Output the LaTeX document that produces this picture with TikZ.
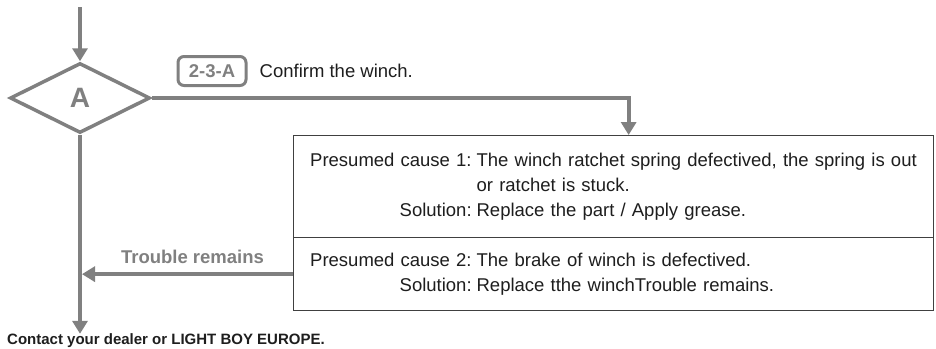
\documentclass[tikz,border=0pt]{standalone}
\usepackage{fontspec}
\setmainfont{Liberation Sans}
\usepackage{array}
\usetikzlibrary{arrows.meta,positioning,shapes.geometric}
\definecolor{flowgray}{HTML}{808080}
\definecolor{boxline}{HTML}{404040}
\definecolor{txt}{HTML}{1E1E1E}

\begin{document}
\begin{tikzpicture}[x=1pt,y=-1pt,every node/.style={text=txt},
  flow/.style={draw=flowgray,line width=4pt,-{Triangle[width=15pt,length=13pt]}},
  causebox/.style={draw=boxline,line width=1.3pt,text width=612pt,inner xsep=14pt,inner ysep=0pt,align=left,font=\fontsize{18.5}{25}\selectfont},
  graytext/.style={text=flowgray,font=\bfseries\fontsize{18.5}{20}\selectfont}]
\useasboundingbox[fill=white] (0,0) rectangle (936,348);
\coordinate (start) at (80,7);
\node[diamond,draw=flowgray,line width=3.5pt,fill=white,minimum width=140pt,minimum height=70pt,inner sep=0pt,text=flowgray,font=\bfseries\fontsize{28}{30}\selectfont] (diaA) at (80,98) {A};
\node[draw=flowgray,line width=3pt,rounded corners=6pt,minimum width=68pt,minimum height=29pt,inner sep=0pt,graytext] (tag) at (212,71) {2-3-A};
\node[right=12pt of tag,inner sep=0pt,font=\fontsize{18.5}{22}\selectfont] (confirm) {Confirm the winch.};
\node[causebox,minimum height=102pt,anchor=north west] (cause1) at (293,135) {\noindent\begin{tabular}{@{}>{\raggedleft\arraybackslash}p{164pt}@{\hspace{5pt}}l@{}}
Presumed cause 1:&The winch ratchet spring defectived, the spring is out\\
&or ratchet is stuck.\\
Solution:&Replace the part / Apply grease.
\end{tabular}};
\node[causebox,minimum height=73pt,anchor=north west] (cause2) at ([yshift=1.3pt]cause1.south west) {\noindent\begin{tabular}{@{}>{\raggedleft\arraybackslash}p{164pt}@{\hspace{5pt}}l@{}}
Presumed cause 2:&The brake of winch is defectived.\\
Solution:&Replace tthe winchTrouble remains.
\end{tabular}};
\node[anchor=west,inner sep=0pt,font=\bfseries\fontsize{15}{18}\selectfont] (contact) at (7,341) {Contact your dealer or LIGHT BOY EUROPE.};
\draw[flow] (start) -- (diaA.north);
\draw[flow] (diaA.east) -| ([xshift=15pt]cause1.north);
\draw[flow,shorten >=2pt] (cause2.west) -- (cause2.west -| diaA) node[midway,above=5pt,xshift=6pt,graytext] (remains) {Trouble remains};
\draw[flow] (diaA.south) -- (diaA.south |- contact.north);
\end{tikzpicture}
\end{document}
